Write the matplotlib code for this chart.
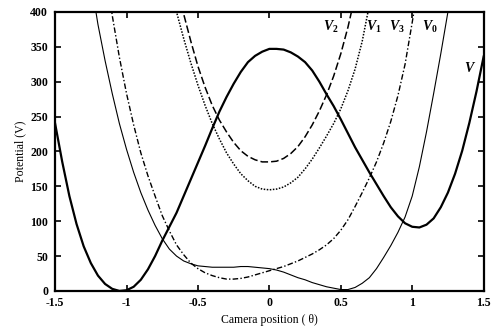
import numpy as np
import matplotlib
matplotlib.use("Agg")
import matplotlib.pyplot as plt

# fonts: Times-like serif, bold italic for the curve labels
plt.rcParams['font.family'] = ['Liberation Serif', 'DejaVu Serif']
plt.rcParams['mathtext.fontset'] = 'custom'
plt.rcParams['mathtext.it'] = 'Liberation Serif:italic:bold'
plt.rcParams['mathtext.rm'] = 'Liberation Serif:bold'

# V (thick solid)
theta_v = [-1.50, -1.45, -1.40, -1.35, -1.30, -1.25, -1.20, -1.15, -1.10, -1.05,
           -1.00, -0.95, -0.90, -0.85, -0.80, -0.75, -0.70, -0.65, -0.60, -0.55,
           -0.50, -0.45, -0.40, -0.35, -0.30, -0.25, -0.20, -0.15, -0.10, -0.05,
           0.00, 0.05, 0.10, 0.15, 0.20, 0.25, 0.30, 0.35, 0.40, 0.45,
           0.50, 0.55, 0.60, 0.65, 0.70, 0.75, 0.80, 0.85, 0.90, 0.95,
           1.00, 1.05, 1.10, 1.15, 1.20, 1.25, 1.30, 1.35, 1.40, 1.45, 1.50]
pot_v = [240, 185, 136, 96, 64, 40, 22, 10, 3, 0,
         1, 6, 16, 31, 50, 72, 92, 112, 136, 160,
         184, 208, 233, 257, 278, 297, 314, 328, 337, 343,
         347, 347, 346, 342, 336, 328, 316, 300, 282, 265,
         246, 226, 206, 188, 170, 153, 136, 120, 107, 97,
         92, 91, 95, 104, 120, 141, 168, 201, 241, 286, 336]

# V0 (thin solid)
theta_v0 = [-1.23, -1.20, -1.15, -1.10, -1.05, -1.00, -0.95, -0.90, -0.85, -0.80,
            -0.75, -0.70, -0.65, -0.60, -0.55, -0.50, -0.45, -0.40, -0.35, -0.30,
            -0.25, -0.20, -0.15, -0.10, -0.05, 0.00, 0.05, 0.10, 0.15, 0.20,
            0.25, 0.30, 0.35, 0.40, 0.45, 0.50, 0.55, 0.60, 0.65, 0.70,
            0.75, 0.80, 0.85, 0.90, 0.95, 1.00, 1.05, 1.10, 1.15, 1.20, 1.25, 1.27]
pot_v0 = [420, 382, 330, 283, 240, 203, 170, 141, 116, 94,
          75, 60, 50, 43, 39, 36, 35, 34, 34, 34,
          34, 35, 35, 34, 33, 32, 30, 27, 23, 19,
          16, 12, 9, 6, 4, 2, 2, 5, 11, 19,
          32, 48, 65, 84, 106, 136, 178, 228, 283, 340, 400, 424]

# V1 (dotted)
theta_v1 = [-0.68, -0.65, -0.60, -0.55, -0.50, -0.45, -0.40, -0.35, -0.30, -0.25,
            -0.20, -0.15, -0.10, -0.05, 0.00, 0.05, 0.10, 0.15, 0.20, 0.25,
            0.30, 0.35, 0.40, 0.45, 0.50, 0.55, 0.60, 0.65, 0.70]
pot_v1 = [420, 400, 362, 327, 295, 266, 240, 218, 198, 182,
          168, 158, 150, 146, 145, 146, 149, 155, 163, 175,
          189, 205, 222, 240, 261, 287, 318, 358, 410]

# V2 (dashed)
theta_v2 = [-0.62, -0.60, -0.55, -0.50, -0.45, -0.40, -0.35, -0.30, -0.25, -0.20,
            -0.15, -0.10, -0.05, 0.00, 0.05, 0.10, 0.15, 0.20, 0.25, 0.30,
            0.35, 0.40, 0.45, 0.50, 0.55, 0.58]
pot_v2 = [410, 397, 358, 322, 292, 266, 245, 228, 213, 201,
          193, 188, 185, 185, 186, 190, 197, 207, 221, 238,
          258, 281, 308, 340, 378, 405]

# V3 (dash-dot)
theta_v3 = [-1.11, -1.10, -1.05, -1.00, -0.95, -0.90, -0.85, -0.80, -0.75, -0.70,
            -0.65, -0.60, -0.55, -0.50, -0.45, -0.40, -0.35, -0.30, -0.25, -0.20,
            -0.15, -0.10, -0.05, 0.00, 0.05, 0.10, 0.15, 0.20, 0.25, 0.30,
            0.35, 0.40, 0.45, 0.50, 0.55, 0.60, 0.65, 0.70, 0.75, 0.80,
            0.85, 0.90, 0.95, 1.00, 1.02]
pot_v3 = [410, 395, 335, 283, 238, 198, 165, 136, 108, 86,
          66, 52, 40, 32, 26, 22, 19, 17, 17, 18,
          20, 23, 26, 29, 32, 35, 39, 43, 48, 53,
          59, 66, 75, 87, 102, 121, 141, 162, 185, 212,
          243, 280, 325, 385, 410]

x_ticks = [-1.5, -1, -0.5, 0, 0.5, 1, 1.5]
x_ticklabels = ['-1.5', '-1', '-0.5', '0', '0.5', '1', '1.5']
y_ticks = [0, 50, 100, 150, 200, 250, 300, 350, 400]

curve_labels = [r'$V_2$', r'$V_1$', r'$V_3$', r'$V_0$', r'$V$']
label_x = [0.43, 0.73, 0.895, 1.125, 1.405]
label_y = [378, 378, 378, 378, 320]

fig = plt.figure(figsize=(4.92, 3.31), dpi=100)
ax = fig.add_axes([0.112, 0.121, 0.871, 0.843])

ax.plot(theta_v0, pot_v0, color='black', lw=0.8)
ax.plot(theta_v3, pot_v3, color='black', lw=1.0, linestyle=(0, (4, 1.6, 1, 1.6)))
ax.plot(theta_v2, pot_v2, color='black', lw=1.1, linestyle=(0, (5, 2)))
ax.plot(theta_v1, pot_v1, color='black', lw=1.1, linestyle=(0, (1, 1)))
ax.plot(theta_v, pot_v, color='black', lw=1.6)

for lab, lx, ly in zip(curve_labels, label_x, label_y):
    ax.text(lx, ly, lab, fontsize=10, ha='center', va='center')

ax.set_xlim(-1.5, 1.5)
ax.set_ylim(0, 400)
ax.set_xticks(x_ticks)
ax.set_xticklabels(x_ticklabels)
ax.set_yticks(y_ticks)
ax.tick_params(direction='in', length=4, width=1.2, top=True, right=True,
               labelsize=8.5)
ax.tick_params(axis='x', pad=4)
ax.tick_params(axis='y', pad=5)
for t in ax.get_xticklabels() + ax.get_yticklabels():
    t.set_fontweight('bold')
for s in ax.spines.values():
    s.set_linewidth(1.6)

ax.set_xlabel('Camera position ( θ)', fontsize=8.5, labelpad=4)
ax.set_ylabel('Potential (V)', fontsize=8.5, labelpad=3)

fig.savefig('out.png', dpi=100)
